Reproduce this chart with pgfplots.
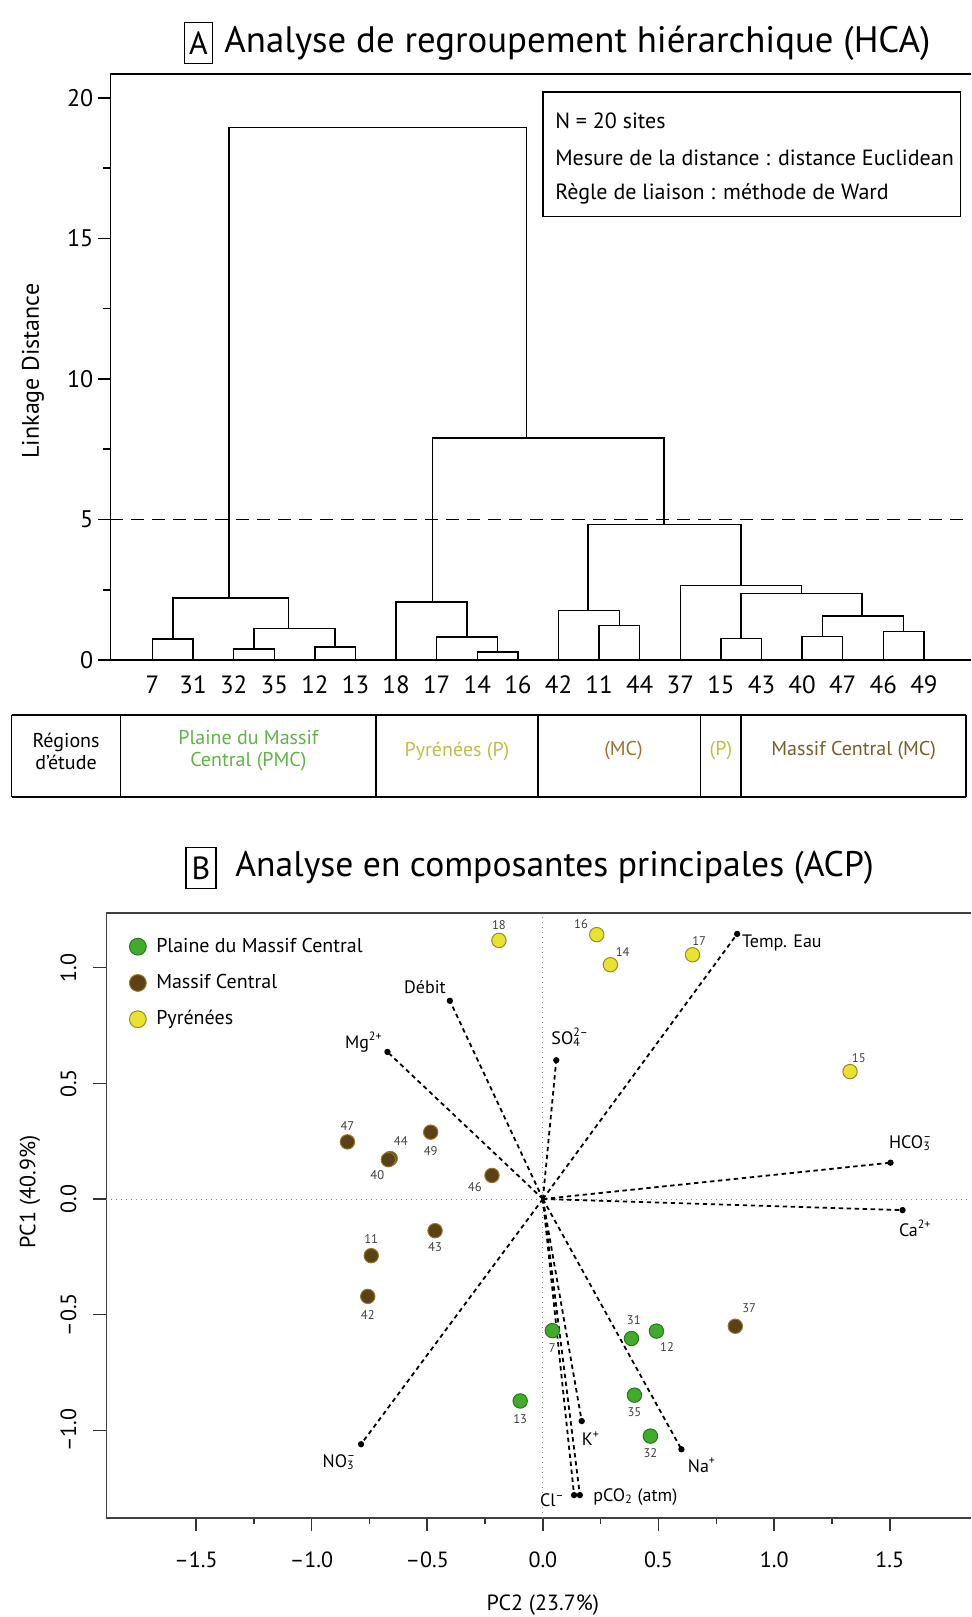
\documentclass[border=0pt]{standalone}
\usepackage{fontspec}
\setmainfont{PT Sans}
\usepackage{pgfplots}
\pgfplotsset{compat=1.18}
\definecolor{cgreen}{RGB}{64,172,42}
\definecolor{cgreenE}{RGB}{40,120,30}
\definecolor{cbrown}{RGB}{92,64,22}
\definecolor{cbrownE}{RGB}{150,120,40}
\definecolor{cyellow}{RGB}{232,226,50}
\definecolor{cyellowE}{RGB}{150,140,30}
\definecolor{tpmc}{RGB}{95,180,70}
\definecolor{tpyr}{RGB}{190,190,70}
\definecolor{tmc}{RGB}{150,115,50}
\definecolor{tmc2}{RGB}{115,95,40}
\newcommand{\subsup}[2]{\rlap{\textsubscript{#1}}\textsuperscript{#2}}
\tikzset{
  dend/.style={black, solid, line width=0.75pt, mark=none},
  arr/.style={black, line width=0.9pt, dash pattern=on 2.2pt off 1.8pt, mark=*, mark size=1.1pt, mark indices={2}, mark options={solid}},
  lab/.style={font=\fontsize{9}{10}\selectfont, inner sep=0pt},
  num/.style={font=\fontsize{6.3}{7}\selectfont, inner sep=0pt, text=black!75},
}
\begin{document}
\begin{tikzpicture}
\path[use as bounding box] (0pt,0pt) rectangle (485.5pt,808.5pt);
% ---------- titles
\node[draw, line width=0.8pt, minimum width=14pt, minimum height=20.5pt, inner sep=0pt, font=\fontsize{16}{18}\selectfont] at (99.2pt,786.9pt) {A};
\node[anchor=west, inner sep=0pt, font=\fontsize{18.4}{21}\selectfont] at (112pt,786.9pt) {Analyse de regroupement hiérarchique (HCA)};
\node[draw, line width=0.8pt, minimum width=15pt, minimum height=20.5pt, inner sep=0pt, font=\fontsize{16}{18}\selectfont] at (100.5pt,374.5pt) {B};
\node[anchor=west, inner sep=0pt, font=\fontsize{17.8}{21}\selectfont] at (117.5pt,374.5pt) {Analyse en composantes principales (ACP)};
% ---------- Panel A
\begin{axis}[
  at={(55.15pt,478.5pt)}, anchor=south west,
  scale only axis, width=430.35pt, height=293pt,
  xmin=-1.04, xmax=20.16, ymin=0, ymax=20.85,
  axis x line*=bottom, axis y line*=left,
  axis line style={line width=0.8pt},
  xtick={0,...,19},
  xticklabels={7,31,32,35,12,13,18,17,14,16,42,11,44,37,15,43,40,47,46,49},
  xtick style={draw=none},
  xticklabel style={anchor=base, yshift=-11pt, font=\fontsize{12.5}{14}\selectfont},
  ytick={0,5,10,15,20}, minor ytick={2.5,7.5,12.5,17.5},
  tick align=outside, major tick length=6pt, minor tick length=3.5pt,
  ytick style={line width=0.8pt, black},
  yticklabel style={font=\fontsize{12}{14}\selectfont},
  yticklabel shift=-1pt,
  /pgf/number format/assume math mode=true,
  ylabel={Linkage Distance},
  ylabel style={font=\fontsize{12}{14}\selectfont, at={(axis description cs:-0.09,0.493)}, anchor=center},
  clip=false,
]
\draw[line width=0.8pt] (rel axis cs:0,1) -- (rel axis cs:1,1);
\addplot[black, dash pattern=on 6.5pt off 4pt, line width=0.85pt, mark=none] coordinates {(-1.04,5) (20.16,5)};
% dendrogram links
\addplot[dend] coordinates {(0,0) (0,0.75) (1,0.75) (1,0)};
\addplot[dend] coordinates {(2,0) (2,0.39) (3,0.39) (3,0)};
\addplot[dend] coordinates {(4,0) (4,0.46) (5,0.46) (5,0)};
\addplot[dend] coordinates {(2.5,0.39) (2.5,1.12) (4.5,1.12) (4.5,0.46)};
\addplot[dend] coordinates {(0.5,0.75) (0.5,2.2) (3.35,2.2) (3.35,1.12)};
\addplot[dend] coordinates {(8,0) (8,0.28) (9,0.28) (9,0)};
\addplot[dend] coordinates {(7,0) (7,0.81) (8.5,0.81) (8.5,0.28)};
\addplot[dend] coordinates {(6,0) (6,2.06) (7.75,2.06) (7.75,0.81)};
\addplot[dend] coordinates {(11,0) (11,1.23) (12,1.23) (12,0)};
\addplot[dend] coordinates {(10,0) (10,1.76) (11.5,1.76) (11.5,1.23)};
\addplot[dend] coordinates {(14,0) (14,0.76) (15,0.76) (15,0)};
\addplot[dend] coordinates {(16,0) (16,0.84) (17,0.84) (17,0)};
\addplot[dend] coordinates {(18,0) (18,1.01) (19,1.01) (19,0)};
\addplot[dend] coordinates {(16.5,0.84) (16.5,1.57) (18.5,1.57) (18.5,1.01)};
\addplot[dend] coordinates {(14.5,0.76) (14.5,2.36) (17.48,2.36) (17.48,1.57)};
\addplot[dend] coordinates {(13,0) (13,2.65) (15.99,2.65) (15.99,2.36)};
\addplot[dend] coordinates {(10.72,1.76) (10.72,4.82) (14.49,4.82) (14.49,2.65)};
\addplot[dend] coordinates {(6.89,2.06) (6.89,7.9) (12.6,7.9) (12.6,4.82)};
\addplot[dend] coordinates {(1.88,2.2) (1.88,18.94) (9.21,18.94) (9.21,7.9)};
% info box
\draw[line width=0.8pt] (axis cs:9.616,20.2) rectangle (axis cs:19.9,15.78);
\node[anchor=west, inner sep=0pt, font=\fontsize{11}{13}\selectfont] at (axis cs:9.91,19.2) {N = 20 sites};
\node[anchor=west, inner sep=0pt, font=\fontsize{11}{13}\selectfont] at (axis cs:9.91,17.88) {Mesure de la distance : distance Euclidean};
\node[anchor=west, inner sep=0pt, font=\fontsize{11}{13}\selectfont] at (axis cs:9.91,16.57) {Règle de liaison : méthode de Ward};
% regions table
\draw[line width=0.8pt] (axis cs:-3.47,-1.957) -- (axis cs:20.03,-1.957);
\draw[line width=0.8pt] (axis cs:-3.47,-4.875) -- (axis cs:20.03,-4.875);
\draw[line width=0.8pt] (axis cs:-3.47,-1.957) -- (axis cs:-3.47,-4.875);
\draw[line width=0.8pt] (axis cs:-0.786,-1.957) -- (axis cs:-0.786,-4.875);
\draw[line width=0.8pt] (axis cs:5.5,-1.957) -- (axis cs:5.5,-4.875);
\draw[line width=0.8pt] (axis cs:9.5,-1.957) -- (axis cs:9.5,-4.875);
\draw[line width=0.8pt] (axis cs:13.5,-1.957) -- (axis cs:13.5,-4.875);
\draw[line width=0.8pt] (axis cs:14.5,-1.957) -- (axis cs:14.5,-4.875);
\draw[line width=0.8pt] (axis cs:20.03,-1.957) -- (axis cs:20.03,-4.875);
\node[align=center, inner sep=0pt, font=\fontsize{10}{12}\selectfont] at (axis cs:-2.13,-3.24) {Régions\\[-1pt]d'étude};
\node[align=center, inner sep=0pt, text=tpmc, font=\fontsize{10}{12}\selectfont] at (axis cs:2.36,-3.24) {Plaine du Massif\\[-1pt]Central (PMC)};
\node[inner sep=0pt, text=tpyr, font=\fontsize{10}{12}\selectfont] at (axis cs:7.5,-3.24) {Pyrénées (P)};
\node[inner sep=0pt, text=tmc, font=\fontsize{10}{12}\selectfont] at (axis cs:11.6,-3.24) {(MC)};
\node[inner sep=0pt, text=tpyr, font=\fontsize{10}{12}\selectfont] at (axis cs:14.0,-3.24) {(P)};
\node[inner sep=0pt, text=tmc2, font=\fontsize{10}{12}\selectfont] at (axis cs:17.27,-3.24) {Massif Central (MC)};
\end{axis}
% ---------- Panel B
\begin{axis}[
  at={(53.2pt,49.5pt)}, anchor=south west,
  scale only axis, width=432.3pt, height=302.5pt,
  xmin=-1.887, xmax=1.851, ymin=-1.379, ymax=1.2365,
  axis x line*=bottom, axis y line*=left,
  axis line style={line width=0.8pt, black!75},
  xtick={-1.5,-1,-0.5,0,0.5,1,1.5},
  xticklabels={–1.5,–1.0,–0.5,0.0,0.5,1.0,1.5},
  minor xtick={-1.25,-0.75,-0.25,0.25,0.75,1.25},
  ytick={-1,-0.5,0,0.5,1},
  yticklabels={–1.0,–0.5,0.0,0.5,1.0},
  tick align=outside, major tick length=6.5pt, minor tick length=3pt,
  tick style={line width=0.8pt, black!80},
  tick label style={font=\fontsize{11}{13}\selectfont},
  xticklabel shift=7pt,
  yticklabel shift=5pt,
  yticklabel style={rotate=90, anchor=south},
  xlabel={PC2 (23.7\%)}, ylabel={PC1 (40.9\%)},
  xlabel style={font=\fontsize{11}{13}\selectfont, at={(axis description cs:0.5047,0)}, anchor=center, yshift=-43.5pt},
  ylabel style={font=\fontsize{11}{13}\selectfont, at={(axis description cs:-0.0885,0.539)}, anchor=center},
  clip=false,
  legend style={draw=none, fill=none, at={(axis cs:-1.815,1.16)}, anchor=north west,
     font=\fontsize{10}{12}\selectfont, row sep=6.5pt, nodes={inner sep=1.5pt}},
  legend cell align=left,
  legend image code/.code={\draw[#1, mark size=4.2pt] plot coordinates {(0pt,0pt)}; \path (7.5pt,0pt);},
]
\draw[line width=0.8pt, black!75] (rel axis cs:0,1) -- (rel axis cs:1,1);
\addplot[forget plot, black!50, dotted, line width=0.5pt] coordinates {(-1.887,0) (1.851,0)};
\addplot[forget plot, black!50, dotted, line width=0.5pt] coordinates {(0,-1.379) (0,1.2365)};
% loading vectors
\addplot[forget plot, arr] coordinates {(0,0) (0.84,1.146)};
\addplot[forget plot, arr] coordinates {(0,0) (-0.402,0.857)};
\addplot[forget plot, arr] coordinates {(0,0) (-0.672,0.636)};
\addplot[forget plot, arr] coordinates {(0,0) (0.058,0.60)};
\addplot[forget plot, arr] coordinates {(0,0) (1.503,0.157)};
\addplot[forget plot, arr] coordinates {(0,0) (1.555,-0.048)};
\addplot[forget plot, arr] coordinates {(0,0) (-0.786,-1.06)};
\addplot[forget plot, arr] coordinates {(0,0) (0.168,-0.96)};
\addplot[forget plot, arr] coordinates {(0,0) (0.599,-1.082)};
\addplot[forget plot, arr] coordinates {(0,0) (0.135,-1.28)};
\addplot[forget plot, arr] coordinates {(0,0) (0.16,-1.28)};
% sites
\addplot[only marks, mark=*, mark size=3.6pt, mark options={fill=cgreen, draw=cgreenE, line width=0.5pt}]
  coordinates {(0.041,-0.569) (0.383,-0.603) (0.491,-0.571) (-0.098,-0.873) (0.396,-0.848) (0.465,-1.025)};
\addlegendentry{Plaine du Massif Central}
\addplot[only marks, mark=*, mark size=3.6pt, mark options={fill=cbrown, draw=cbrownE, line width=0.5pt}]
  coordinates {(-0.845,0.247) (-0.66,0.175) (-0.668,0.170) (-0.485,0.289) (-0.22,0.102) (-0.466,-0.137) (-0.742,-0.245) (-0.757,-0.421) (0.832,-0.55)};
\addlegendentry{Massif Central}
\addplot[only marks, mark=*, mark size=3.6pt, mark options={fill=cyellow, draw=cyellowE, line width=0.5pt}]
  coordinates {(-0.19,1.118) (0.233,1.143) (0.292,1.013) (0.647,1.056) (1.328,0.551)};
\addlegendentry{Pyrénées}
% variable labels
\node[lab, anchor=west] at (axis cs:0.86,1.105) {Temp. Eau};
\node[lab] at (axis cs:-0.51,0.916) {Débit};
\node[lab] at (axis cs:-0.774,0.677) {Mg\textsuperscript{2+}};
\node[lab] at (axis cs:0.118,0.70) {SO\subsup{4}{2–}};
\node[lab] at (axis cs:1.59,0.241) {HCO\subsup{3}{–}};
\node[lab] at (axis cs:1.61,-0.127) {Ca\textsuperscript{2+}};
\node[lab] at (axis cs:-0.88,-1.137) {NO\subsup{3}{–}};
\node[lab] at (axis cs:0.208,-1.036) {K\textsuperscript{+}};
\node[lab] at (axis cs:0.688,-1.151) {Na\textsuperscript{+}};
\node[lab] at (axis cs:0.041,-1.303) {Cl\textsuperscript{–}};
\node[lab] at (axis cs:0.40,-1.289) {pCO\textsubscript{2} (atm)};
% site numbers
\node[num] at (axis cs:-0.19,1.185) {18};
\node[num] at (axis cs:0.165,1.19) {16};
\node[num] at (axis cs:0.345,1.066) {14};
\node[num] at (axis cs:0.676,1.114) {17};
\node[num] at (axis cs:1.366,0.609) {15};
\node[num] at (axis cs:-0.845,0.315) {47};
\node[num] at (axis cs:-0.614,0.252) {44};
\node[num] at (axis cs:-0.716,0.104) {40};
\node[num] at (axis cs:-0.485,0.209) {49};
\node[num] at (axis cs:-0.294,0.051) {46};
\node[num] at (axis cs:-0.466,-0.21) {43};
\node[num] at (axis cs:-0.742,-0.172) {11};
\node[num] at (axis cs:-0.757,-0.50) {42};
\node[num] at (axis cs:0.892,-0.473) {37};
\node[num] at (axis cs:0.041,-0.646) {7};
\node[num] at (axis cs:0.393,-0.524) {31};
\node[num] at (axis cs:0.537,-0.639) {12};
\node[num] at (axis cs:-0.098,-0.95) {13};
\node[num] at (axis cs:0.396,-0.92) {35};
\node[num] at (axis cs:0.465,-1.098) {32};
\end{axis}
\end{tikzpicture}
\end{document}
